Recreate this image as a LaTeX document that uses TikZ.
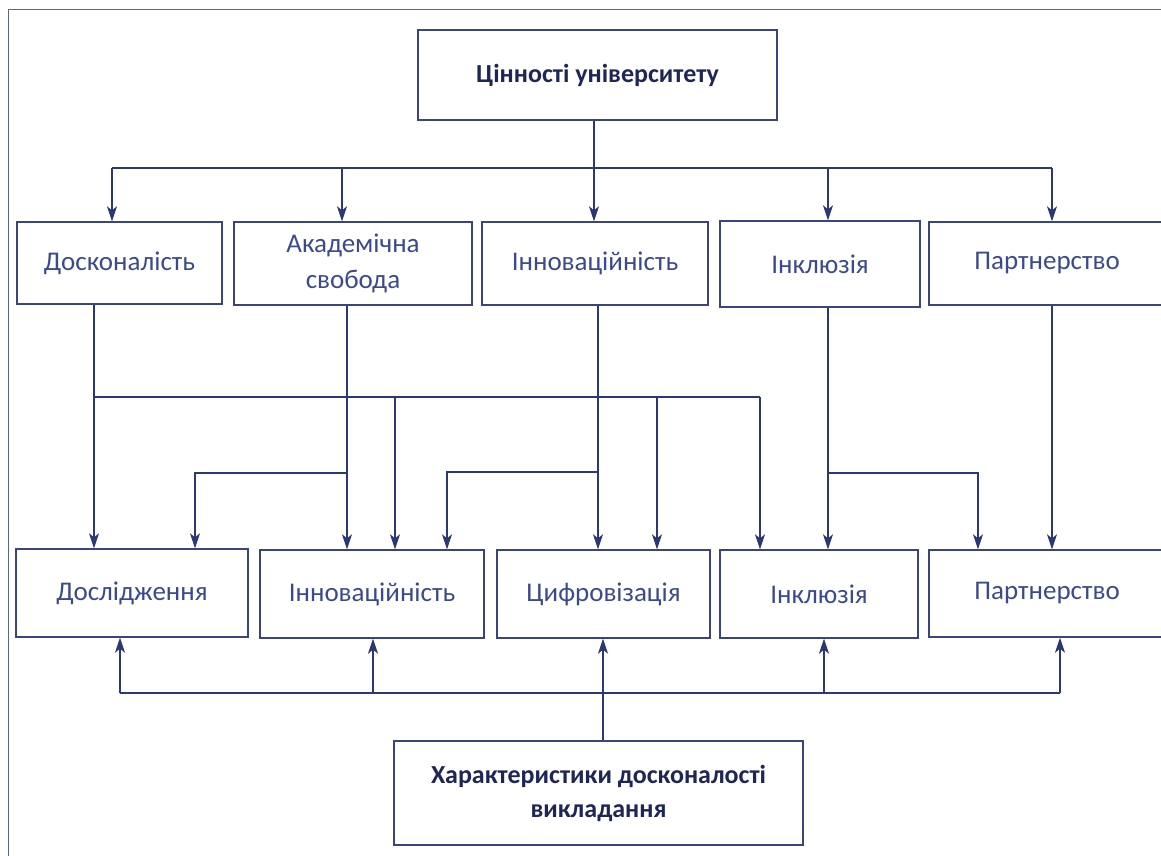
\documentclass[tikz,border=0pt]{standalone}
\usepackage{fontspec}
\setmainfont{Carlito}
\usetikzlibrary{arrows.meta}
\definecolor{ln}{HTML}{2C3775}
\definecolor{bx}{HTML}{3A4580}
\definecolor{tx}{HTML}{3B4A8E}
\definecolor{tt}{HTML}{1E2658}
\definecolor{fr}{HTML}{5A6490}
\tikzset{
  box/.style={draw=bx, line width=1.4pt, fill=white, text=tx, align=center, inner sep=0pt, font=\fontsize{27}{36}\selectfont},
  tbox/.style={box, text=tt, font=\fontsize{26}{34}\selectfont\bfseries},
  conn/.style={draw=ln, line width=1.3pt},
  arr/.style={conn, -{Stealth[length=15pt,width=10pt,inset=4pt]}},
}
\begin{document}
\begin{tikzpicture}[x=1pt,y=-1pt]
\useasboundingbox (0,0) rectangle (1161,856);
\draw[fr, line width=1pt] (1161,10) -- (8,10) -- (8,856);
% nodes
\node[tbox, minimum width=359pt, minimum height=90pt] (top) at (597.5,75) {Цінності університету};
\node[box, minimum width=205pt, minimum height=82pt] (a1) at (119.5,263) {Досконалість};
\node[box, minimum width=238pt, minimum height=83pt] (b1) at (353,263.5) {Академічна\\свобода};
\node[box, minimum width=226pt, minimum height=83pt] (c1) at (595,263.5) {Інноваційність};
\node[box, minimum width=200pt, minimum height=86pt] (d1) at (820,264) {Інклюзія};
\node[box, minimum width=236pt, minimum height=83pt] (e1) at (1047,263.5) {Партнерство};
\node[box, minimum width=232pt, minimum height=88pt] (a2) at (132,593) {Дослідження};
\node[box, minimum width=224pt, minimum height=88pt] (b2) at (372,594) {Інноваційність};
\node[box, minimum width=213pt, minimum height=88pt] (c2) at (603.5,594) {Цифровізація};
\node[box, minimum width=198pt, minimum height=88pt] (d2) at (819,594) {Інклюзія};
\node[box, minimum width=236pt, minimum height=87pt] (e2) at (1047,593.5) {Партнерство};
\node[tbox, minimum width=409pt, minimum height=104pt] (bot) at (598.5,793) {Характеристики досконалості\\викладання};
% column coordinates
\coordinate (t1) at (112,168);
\coordinate (t2) at (342,168);
\coordinate (t3) at (594,168);
\coordinate (t4) at (828,168);
\coordinate (t5) at (1052,168);
\coordinate (k1) at (94,397);
\coordinate (k4) at (395,397);
\coordinate (k7) at (657,397);
\coordinate (k8) at (760,397);
\coordinate (m2) at (195,473);
\coordinate (m3) at (347,473);
\coordinate (m5) at (447,472);
\coordinate (m6) at (598,472);
\coordinate (m9) at (828,473);
\coordinate (m10) at (978,473);
\coordinate (n5) at (1052,473);
\coordinate (u1) at (120,693);
\coordinate (u2) at (373,693);
\coordinate (u3) at (603,693);
\coordinate (u4) at (824,693);
\coordinate (u5) at (1060,693);
% top distribution
\draw[conn] (top.south -| t3) -- (t3);
\draw[conn] (t1) -- (t5);
\draw[arr] (t1) -- (a1.north -| t1);
\draw[arr] (t2) -- (b1.north -| t2);
\draw[arr] (t3) -- (c1.north -| t3);
\draw[arr] (t4) -- (d1.north -| t4);
\draw[arr] (t5) -- (e1.north -| t5);
% from Досконалість
\draw[arr] (a1.south -| k1) -- (a2.north -| k1);
\draw[conn] (k1) -- (k8);
\draw[arr] (k4) -- (b2.north -| k4);
\draw[arr] (k7) -- (c2.north -| k7);
\draw[arr] (k8) -- (d2.north -| k8);
% from Академічна свобода
\draw[arr] (b1.south -| m3) -- (b2.north -| m3);
\draw[arr] (m3) -- (m2) -- (a2.north -| m2);
% from Інноваційність
\draw[arr] (c1.south -| m6) -- (c2.north -| m6);
\draw[arr] (m6) -- (m5) -- (b2.north -| m5);
% from Інклюзія
\draw[arr] (d1.south -| m9) -- (d2.north -| m9);
\draw[arr] (m9) -- (m10) -- (e2.north -| m10);
% from Партнерство
\draw[arr] (e1.south -| n5) -- (e2.north -| n5);
% bottom
\draw[conn] (u1) -- (u5);
\draw[arr] (bot.north -| u3) -- (c2.south -| u3);
\draw[arr] (u1) -- (a2.south -| u1);
\draw[arr] (u2) -- (b2.south -| u2);
\draw[arr] (u4) -- (d2.south -| u4);
\draw[arr] (u5) -- (e2.south -| u5);
\end{tikzpicture}
\end{document}
